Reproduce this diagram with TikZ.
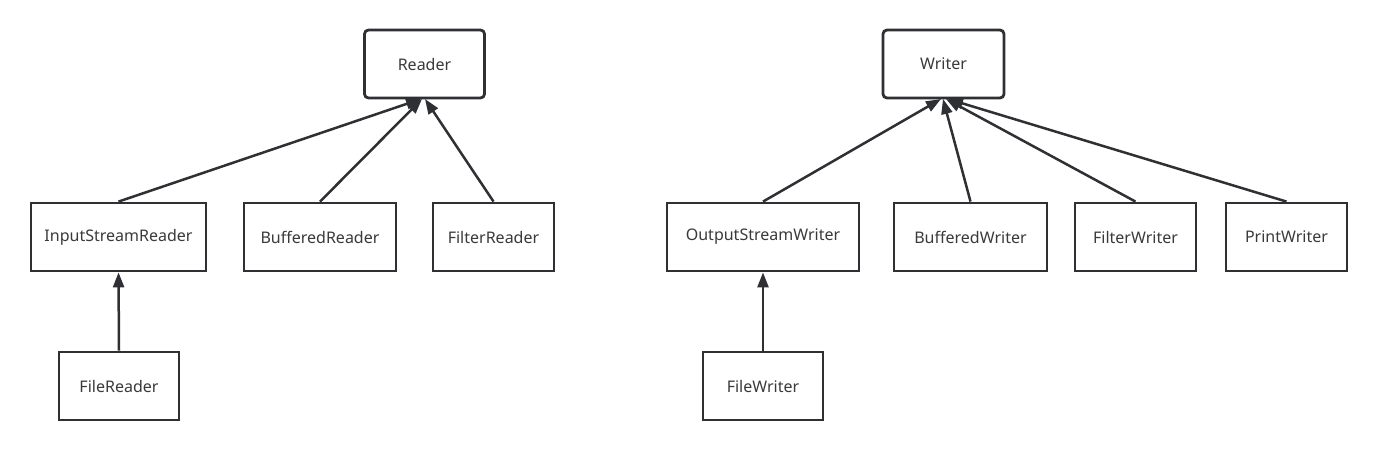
\documentclass[tikz,border=0pt]{standalone}
\usepackage{fontspec}
\setmainfont{Noto Sans}
\usetikzlibrary{arrows.meta}
\definecolor{ln}{HTML}{2F3034}
\definecolor{tx}{HTML}{3A3A3A}
\begin{document}
\begin{tikzpicture}[x=1pt,y=-1pt,
  box/.style={draw=ln,line width=2.8pt,fill=white,text=tx,font=\fontsize{16}{19}\selectfont,inner sep=0pt},
  topbox/.style={box,rounded corners=4pt},
  inh/.style={draw=ln,line width=2.5pt,-{Triangle[length=15pt,width=11pt]}}]
\useasboundingbox (0,0) rectangle (1396,461);
\fill[white] (0,0) rectangle (1396,461);
% Reader side
\node[topbox,minimum width=120pt,minimum height=68pt] (reader) at (424.5,64) {Reader};
\node[box,minimum width=175pt,minimum height=68pt] (isr) at (118.5,237) {InputStreamReader};
\node[box,minimum width=152pt,minimum height=68pt] (br) at (320,237) {BufferedReader};
\node[box,minimum width=121pt,minimum height=68pt] (fr) at (493.5,237) {FilterReader};
\node[box,minimum width=120pt,minimum height=68pt] (filer) at (119,386) {FileReader};
\coordinate (rt1) at (421,99);
\coordinate (rt2) at (422,99);
\coordinate (rt3) at (425,99);
\draw[inh] (isr.north) -- (rt1);
\draw[inh] (br.north) -- (rt2);
\draw[inh] (fr.north) -- (rt3);
\draw[inh] (filer.north) -- (isr.south);
% Writer side
\node[topbox,minimum width=121pt,minimum height=68pt] (writer) at (943.5,64) {Writer};
\node[box,minimum width=192pt,minimum height=68pt] (osw) at (763,237) {OutputStreamWriter};
\node[box,minimum width=153pt,minimum height=68pt] (bw) at (970.5,237) {BufferedWriter};
\node[box,minimum width=121pt,minimum height=68pt] (fw) at (1135.5,237) {FilterWriter};
\node[box,minimum width=121pt,minimum height=68pt] (pw) at (1286.5,237) {PrintWriter};
\node[box,minimum width=120pt,minimum height=68pt] (filew) at (763,386) {FileWriter};
\coordinate (wt1) at (941,99);
\coordinate (wt2) at (943,99);
\coordinate (wt3) at (946,99);
\coordinate (wt4) at (948,99);
\draw[inh] (osw.north) -- (wt1);
\draw[inh] (bw.north) -- (wt2);
\draw[inh] (fw.north) -- (wt3);
\draw[inh] (pw.north) -- (wt4);
\draw[inh] (filew.north) -- (osw.south);
\end{tikzpicture}
\end{document}
